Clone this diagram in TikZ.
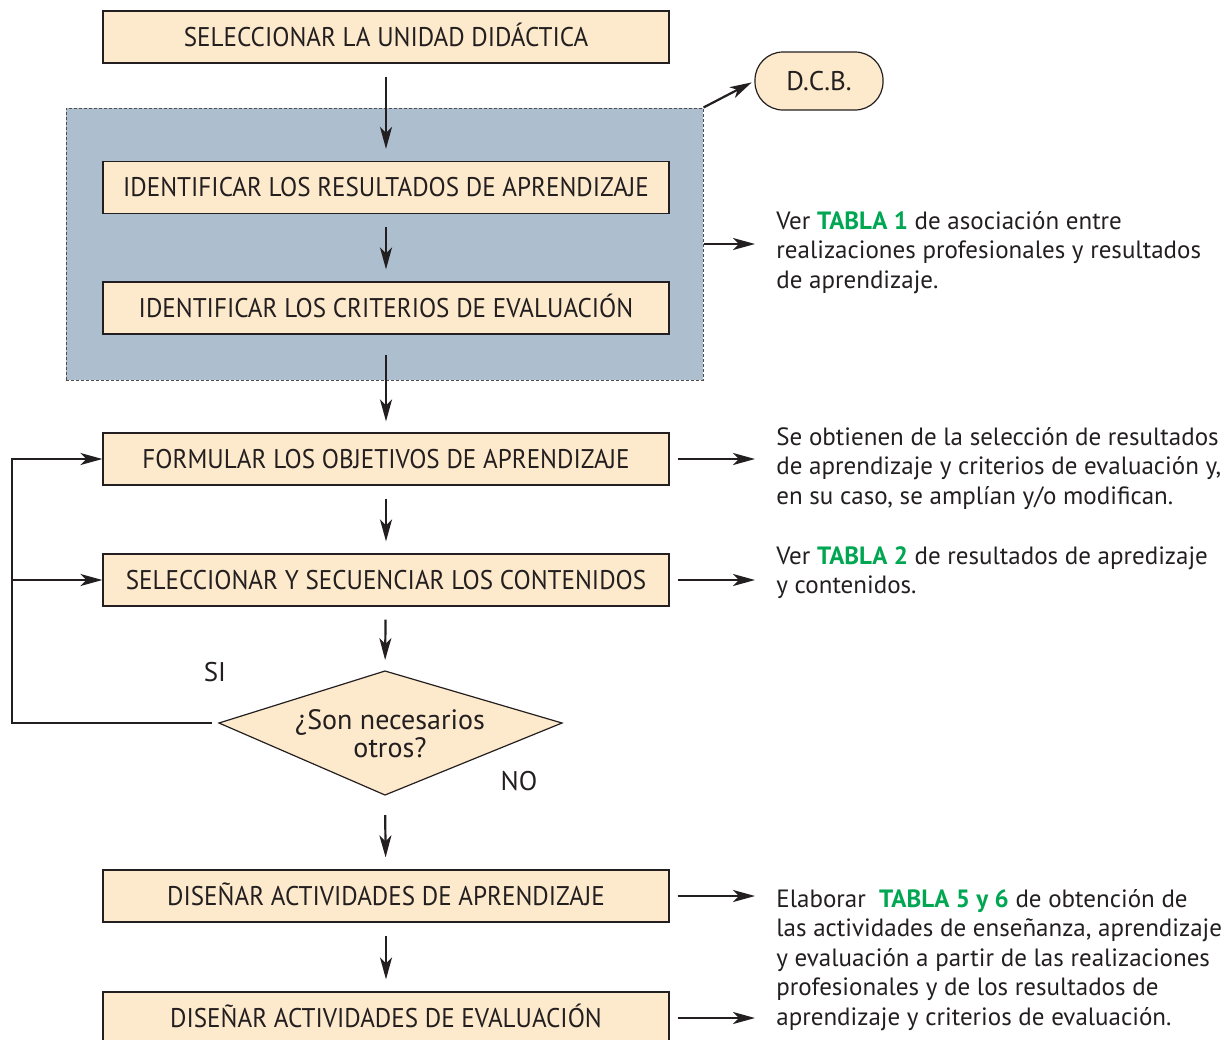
\documentclass[tikz,border=0pt]{standalone}
\usepackage{fontspec}
\setmainfont{PT Sans}
\newfontfamily\boxfont[FakeStretch=0.93]{PT Sans}
\usepackage{xcolor}
\usetikzlibrary{arrows.meta,positioning}
\definecolor{peach}{HTML}{FDE9CB}
\definecolor{steel}{HTML}{ADBFCF}
\definecolor{tablagreen}{HTML}{00A651}
\definecolor{ink}{HTML}{231F20}
\newcommand{\tabla}[1]{\textcolor{tablagreen}{\bfseries #1}}

\begin{document}
\begin{tikzpicture}[x=0.5pt,y=-0.5pt,
font=\fontsize{12.5}{14.75}\selectfont, text=ink,
box/.style={rectangle, draw=ink, line width=0.6pt, fill=peach, minimum width=283pt, minimum height=26pt, text height=9.4pt, text depth=0pt, font=\boxfont\fontsize{13.5}{14}\selectfont},
panel/.style={rectangle, draw=ink!80, dash pattern=on 1.5pt off 1pt, line width=0.5pt, fill=steel, minimum width=318.5pt, minimum height=136pt},
source/.style={rectangle, rounded corners=14pt, draw=ink, line width=0.6pt, fill=peach, minimum width=64pt, minimum height=29pt, font=\fontsize{13.5}{14}\selectfont},
decision/.style={draw=ink, line width=0.6pt, fill=peach},
answer/.style={font=\fontsize{13.5}{14}\selectfont},
note/.style={anchor=north west, inner sep=0pt, align=left},
edge/.style={draw=ink, line width=1.1pt, -{Stealth[length=11pt,width=6pt,inset=3pt]}},
flow/.style={edge, shorten <=6.5pt, shorten >=6pt},
side/.style={edge, shorten <=4pt, shorten >=10.5pt}]
\useasboundingbox (0,0) rectangle (1230,1039);
\node[panel] (P) at (384.5,244) {};
\node[box] (A) at (386,37) {SELECCIONAR LA UNIDAD DIDÁCTICA};
\node[box] (B) at (386,187.5) {IDENTIFICAR LOS RESULTADOS DE APRENDIZAJE};
\node[box] (C) at (386,308) {IDENTIFICAR LOS CRITERIOS DE EVALUACIÓN};
\node[box] (F) at (386,459) {FORMULAR LOS OBJETIVOS DE APRENDIZAJE};
\node[box] (S) at (386,580) {SELECCIONAR Y SECUENCIAR LOS CONTENIDOS};
\coordinate (Qt) at (385,671);
\coordinate (Qr) at (562,723);
\coordinate (Qb) at (385,795);
\coordinate (Ql) at (219,723);
\draw[decision] (Qt) -- (Qr) -- (Qb) -- (Ql) -- cycle;
\node[align=center, inner sep=0pt, font=\fontsize{14}{12.8}\selectfont] (Q) at (390,734) {¿Son necesarios\\otros?};
\node[answer] (si) at (215,672) {SI};
\node[answer] (no) at (519,781) {NO};
\node[box] (DA) at (386,896) {DISEÑAR ACTIVIDADES DE APRENDIZAJE};
\node[box] (DE) at (386,1018) {DISEÑAR ACTIVIDADES DE EVALUACIÓN};
\node[source] (D) at (819,81) {D.C.B.};
\node[note] (n1) at (776,211) {Ver \tabla{TABLA 1} de asociación entre\\realizaciones profesionales y resultados\\de aprendizaje.};
\node[note] (n2) at (776,427) {Se obtienen de la selección de resultados\\de aprendizaje y criterios de evaluación y,\\en su caso, se amplían y/o modifican.};
\node[note] (n3) at (776,546) {Ver \tabla{TABLA 2} de resultados de apredizaje\\y contenidos.};
\node[note] (n4) at (776,889) {Elaborar\ \ \tabla{TABLA 5 y 6} de obtención de\\las actividades de enseñanza, aprendizaje\\y evaluación a partir de las realizaciones\\profesionales y de los resultados de\\aprendizaje y criterios de evaluación.};
\coordinate (L) at (12,723);

\draw[flow] (A) -- (B);
\draw[flow] (B) -- (C);
\draw[flow, shorten <=10pt, shorten >=5.5pt] (C) -- (F);
\draw[flow] (F) -- (S);
\draw[flow, shorten >=5.5pt] (S) -- (Qt);
\draw[flow, shorten <=10pt] (Qb) -- (DA);
\draw[flow] (DA) -- (DE);
\draw[edge, shorten <=3.5pt] (Ql) -- (L) |- (F.west);
\draw[edge] (L |- S.west) -- (S.west);
\draw[edge, shorten >=1.5pt] (P.north east) -- (D.west);
\draw[edge, shorten >=10.5pt] (P.east) -- (P.east -| n1.west);
\draw[side] (F.east) -- (F.east -| n2.west);
\draw[side] (S.east) -- (S.east -| n3.west);
\draw[side] (DA.east) -- (DA.east -| n4.west);
\draw[side] (DE.east) -- (DE.east -| n4.west);
\end{tikzpicture}
\end{document}
